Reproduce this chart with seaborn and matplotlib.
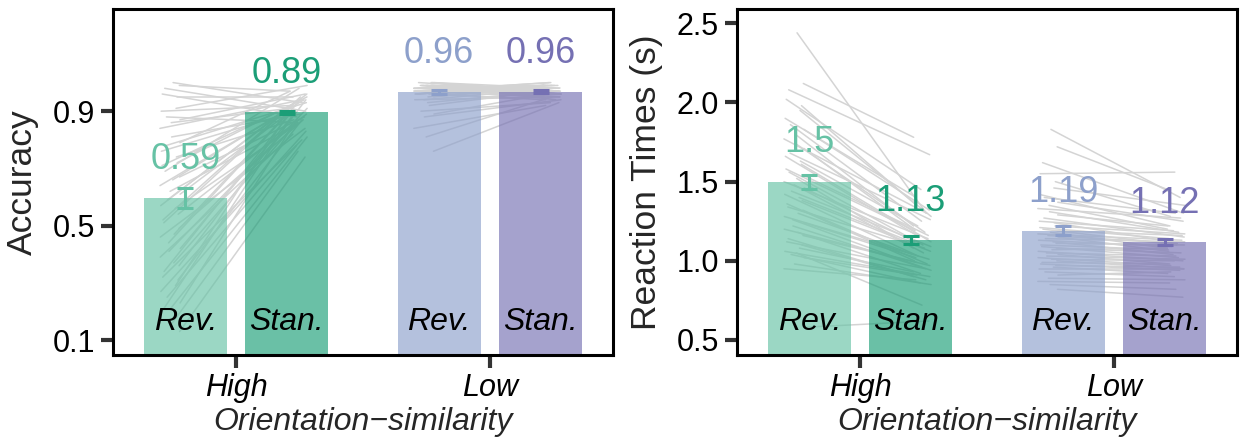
import numpy as np
import pandas as pd
import matplotlib
matplotlib.use("Agg")
import matplotlib.pyplot as plt
import seaborn as sns
from matplotlib.colors import to_rgba

# ---------------- data ----------------
similarity = ["High", "Low"]
conditions = ["Rev.", "Stan."]
xlabel_text = "Orientation\u2212similarity"

rev_colors = ["#66c2a5", "#8da0cb"]     # High, Low
stan_colors = ["#1b9e77", "#7570b3"]    # High, Low

# Accuracy (High, Low)
acc_rev_mean = [0.595, 0.968]
acc_stan_mean = [0.896, 0.968]
acc_rev_sem = [0.035, 0.007]
acc_stan_sem = [0.006, 0.005]
acc_rev_label = ["0.59", "0.96"]
acc_stan_label = ["0.89", "0.96"]
acc_yticks = [0.1, 0.5, 0.9]

# Reaction times (High, Low)
rt_rev_mean = [1.50, 1.19]
rt_stan_mean = [1.13, 1.12]
rt_rev_sem = [0.045, 0.03]
rt_stan_sem = [0.025, 0.02]
rt_rev_label = ["1.5", "1.19"]
rt_stan_label = ["1.13", "1.12"]
rt_yticks = [0.5, 1.0, 1.5, 2.0, 2.5]

# individual subjects (approximate)
acc_high_rev = [1.00, 0.99, 0.98, 0.96, 0.95, 0.91, 0.90, 0.88, 0.87, 0.86,
                0.84, 0.81, 0.79, 0.78, 0.76, 0.74, 0.72, 0.71, 0.69, 0.67,
                0.66, 0.64, 0.62, 0.61, 0.59, 0.57, 0.56, 0.54, 0.52, 0.51,
                0.49, 0.47, 0.46, 0.44, 0.42, 0.41, 0.39, 0.37, 0.36, 0.34,
                0.32, 0.31, 0.29, 0.27, 0.25, 0.23, 0.21, 0.19, 0.16, 0.13]
acc_high_stan = [0.93, 0.97, 0.90, 0.88, 0.95, 0.99, 0.92, 0.86, 0.96, 0.91,
                 0.94, 0.89, 0.97, 0.93, 0.90, 0.87, 0.95, 0.92, 0.98, 0.88,
                 0.91, 0.94, 0.86, 0.90, 0.96, 0.93, 0.85, 0.89, 0.92, 0.95,
                 0.87, 0.90, 0.84, 0.93, 0.88, 0.91, 0.82, 0.86, 0.94, 0.89,
                 0.80, 0.87, 0.90, 0.83, 0.78, 0.85, 0.81, 0.88, 0.76, 0.74]
acc_low_rev = [0.99, 0.98, 1.00, 0.97, 0.99, 0.98, 0.96, 0.99, 1.00, 0.97,
               0.98, 0.99, 0.95, 0.98, 0.97, 0.99, 1.00, 0.96, 0.98, 0.97,
               0.99, 0.98, 0.94, 0.97, 0.99, 0.98, 0.96, 1.00, 0.97, 0.98,
               0.99, 0.95, 0.97, 0.98, 0.96, 0.99, 0.97, 0.93, 0.98, 0.96,
               0.97, 0.99, 0.92, 0.94, 0.90, 0.89, 0.88, 0.84, 0.81, 0.76]
acc_low_stan = [0.98, 0.99, 0.97, 1.00, 0.98, 0.96, 0.99, 0.97, 0.98, 0.99,
                0.96, 0.97, 0.99, 0.98, 1.00, 0.97, 0.96, 0.99, 0.98, 0.97,
                0.95, 0.99, 0.98, 0.97, 0.96, 0.99, 0.98, 0.97, 0.95, 0.99,
                0.96, 0.98, 0.97, 0.99, 0.94, 0.96, 0.98, 0.97, 0.95, 0.99,
                0.96, 0.94, 0.97, 0.95, 0.93, 0.96, 0.94, 0.92, 0.95, 0.93]

rt_high_rev = [2.44, 2.12, 2.08, 2.02, 1.98, 1.95, 1.90, 1.86, 1.83, 1.80,
               1.77, 1.74, 1.71, 1.68, 1.66, 1.63, 1.61, 1.58, 1.56, 1.54,
               1.52, 1.50, 1.48, 1.46, 1.44, 1.42, 1.40, 1.38, 1.36, 1.34,
               1.32, 1.30, 1.28, 1.26, 1.24, 1.22, 1.20, 1.18, 1.16, 1.14,
               1.12, 1.10, 1.08, 1.06, 1.04, 1.02, 0.98, 0.95, 1.05, 0.58]
rt_high_stan = [1.30, 1.78, 1.67, 1.45, 1.35, 1.28, 1.40, 1.25, 1.32, 1.22,
                1.30, 1.18, 1.20, 1.26, 1.15, 1.22, 1.12, 1.19, 1.10, 1.16,
                1.08, 1.14, 1.05, 1.12, 1.09, 1.03, 1.10, 1.06, 1.00, 1.08,
                0.98, 1.04, 1.01, 0.96, 1.02, 0.94, 0.99, 0.92, 0.97, 0.90,
                0.95, 0.88, 0.93, 0.90, 0.86, 0.91, 0.85, 0.88, 0.72, 0.62]
rt_low_rev = [1.83, 1.72, 1.62, 1.55, 1.50, 1.46, 1.42, 1.40, 1.37, 1.35,
              1.33, 1.31, 1.29, 1.27, 1.25, 1.24, 1.22, 1.21, 1.20, 1.19,
              1.18, 1.17, 1.16, 1.15, 1.14, 1.13, 1.12, 1.11, 1.10, 1.09,
              1.08, 1.07, 1.06, 1.05, 1.04, 1.03, 1.02, 1.01, 1.00, 0.99,
              0.98, 0.97, 0.96, 0.95, 0.93, 0.91, 0.89, 0.87, 0.85, 0.82]
rt_low_stan = [1.40, 1.45, 1.30, 1.56, 1.28, 1.35, 1.22, 1.30, 1.25, 1.20,
               1.27, 1.18, 1.22, 1.15, 1.19, 1.12, 1.17, 1.14, 1.10, 1.16,
               1.08, 1.13, 1.11, 1.06, 1.12, 1.09, 1.04, 1.10, 1.07, 1.02,
               1.05, 1.08, 1.00, 1.03, 0.98, 1.01, 0.97, 1.00, 0.95, 0.98,
               0.94, 0.96, 0.92, 0.95, 0.90, 0.93, 0.88, 0.86, 0.82, 0.77]

# ---------------- style ----------------
sns.set_theme(style="ticks")
plt.rcParams["font.family"] = ["Liberation Sans", "DejaVu Sans"]

fig = plt.figure(figsize=(12.44, 4.43), dpi=100)
ax1 = fig.add_axes([0.0908, 0.1986, 0.402, 0.781])
ax2 = fig.add_axes([0.5924, 0.1986, 0.402, 0.781])


def panel(ax, rev_mean, stan_mean, rev_sem, stan_sem, rev_lab, stan_lab,
          subjects, ylabel, ylim, yticks):
    df = pd.DataFrame({
        "similarity": similarity + similarity,
        "cond": [conditions[0]] * 2 + [conditions[1]] * 2,
        "value": list(rev_mean) + list(stan_mean),
    })
    sns.barplot(data=df, x="similarity", y="value", hue="cond",
                order=similarity, hue_order=conditions, width=0.8, gap=0.18,
                errorbar=None, legend=False, ax=ax)
    for p in ax.patches:
        c = p.get_x() + p.get_width() / 2
        gi = int(round(c))
        cols = rev_colors if c < gi else stan_colors
        p.set_facecolor(to_rgba(cols[gi], 0.65))
        p.set_edgecolor("none")

    # subject lines (under the translucent bars)
    for gi, (rv, sv) in enumerate(subjects):
        for i, (r, s) in enumerate(zip(rv, sv)):
            j1 = 0.04 * np.sin(1.7 * i + 0.3)
            j2 = 0.035 * np.cos(2.3 * i + 1.1)
            ax.plot([gi - 0.2 - 0.06 + j1, gi + 0.2 + 0.045 + j2], [r, s],
                    color="#d4d4d4", lw=1.1, zorder=0.5)

    for gi in range(2):
        for off, m, e, lab, cols, cond in (
                (-0.2, rev_mean[gi], rev_sem[gi], rev_lab[gi], rev_colors, conditions[0]),
                (0.2, stan_mean[gi], stan_sem[gi], stan_lab[gi], stan_colors, conditions[1])):
            x = gi + off
            ax.errorbar(x, m, yerr=e, fmt="none", ecolor=cols[gi],
                        elinewidth=2.2, capsize=6, capthick=2.2, zorder=3)
            ax.annotate(lab, (x, m), xytext=(0, 21), textcoords="offset points",
                        ha="center", va="baseline", fontsize=26,
                        color=cols[gi], zorder=4)
            ax.text(x, 0.072, cond, transform=ax.get_xaxis_transform(),
                    ha="center", va="baseline", fontsize=23, style="italic",
                    color="black", zorder=4)

    ax.set_xlim(-0.485, 1.485)
    ax.set_ylim(*ylim)
    ax.set_yticks(yticks)
    ax.set_yticklabels([f"{t:.1f}" for t in yticks])
    ax.set_xticks([0, 1])
    ax.set_xticklabels(similarity, style="italic")
    ax.set_xlabel(xlabel_text, fontsize=23, style="italic", labelpad=3)
    ax.set_ylabel(ylabel, fontsize=25.5, labelpad=10)
    for sp in ax.spines.values():
        sp.set_visible(True)
        sp.set_linewidth(2.2)
        sp.set_color("black")
    ax.tick_params(axis="both", width=3, length=9, color="#333333",
                   labelsize=22, labelcolor="black", pad=4)


panel(ax1, acc_rev_mean, acc_stan_mean, acc_rev_sem, acc_stan_sem,
      acc_rev_label, acc_stan_label,
      [(acc_high_rev, acc_high_stan), (acc_low_rev, acc_low_stan)],
      "Accuracy", (0.048, 1.257), acc_yticks)
panel(ax2, rt_rev_mean, rt_stan_mean, rt_rev_sem, rt_stan_sem,
      rt_rev_label, rt_stan_label,
      [(rt_high_rev, rt_high_stan), (rt_low_rev, rt_low_stan)],
      "Reaction Times (s)", (0.405, 2.59), rt_yticks)

fig.savefig("out.png", dpi=100)
